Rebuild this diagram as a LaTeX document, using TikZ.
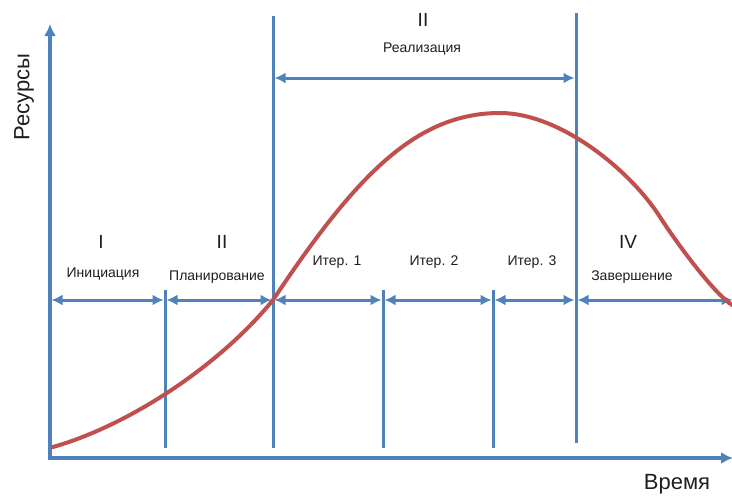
\documentclass[tikz,border=0pt]{standalone}
\usepackage{fontspec}
\setmainfont{Liberation Sans}
\usetikzlibrary{arrows.meta}

\definecolor{lineblue}{RGB}{79,129,189}
\definecolor{curvered}{RGB}{192,80,77}
\definecolor{labelgray}{RGB}{30,30,30}

\tikzset{
    axis/.style={draw=lineblue, line width=4pt, -{Latex[length=12pt,width=12pt]}},
    divider/.style={draw=lineblue, line width=3pt},
    span/.style={draw=lineblue, line width=3pt,
        {Latex[length=11pt,width=11pt]}-{Latex[length=11pt,width=11pt]},
        shorten <=1.5pt, shorten >=1.5pt},
    curve/.style={draw=curvered, line width=4pt, line cap=round},
    numeral/.style={text=labelgray, font=\fontsize{19}{22}\selectfont},
    phasename/.style={text=labelgray, font=\fontsize{14}{16}\selectfont},
    axislabel/.style={text=labelgray, font=\fontsize{22}{26}\selectfont}
}

\begin{document}
\begin{tikzpicture}[x=1pt,y=-1pt]
    \useasboundingbox (0,0) rectangle (732,496);

    % Dividers
    \foreach \i/\x/\t/\b in {1/165/290/448, 2/273/16/448, 3/383/290/448, 4/493/290/448, 5/576/13/443} {
        \coordinate (top\i) at (\x,\t);
        \coordinate (bot\i) at (\x,\b);
        \coordinate (mid\i) at (\x,300);
        \draw[divider] (top\i) -- (bot\i);
    }
    \coordinate (mid0) at (50,300);
    \coordinate (mid6) at (734,300);

    % Phase spans
    \foreach \a/\b in {0/1,1/2,2/3,3/4,4/5,5/6}
        \draw[span] (mid\a) -- (mid\b);
    \coordinate (realL) at (273,78);
    \coordinate (realR) at (576,78);
    \draw[span] (realL) -- (realR);

    % Axes
    \coordinate (origin) at (50,458);
    \coordinate (ytip) at (50,24);
    \coordinate (xtip) at (733,458);
    \draw[axis] ([yshift=-2pt]origin) -- (ytip);
    \draw[axis] ([xshift=-2pt]origin) -- (xtip);
    \node[axislabel, rotate=90] (resources) at (24,97) {Ресурсы};
    \node[axislabel] (time) at (677,484) {Время};

    % Phase labels
    \node[numeral] (n1) at (101,242) {I};
    \node[numeral] (n2) at (222,242) {II};
    \node[numeral] (n3) at (423,20) {II};
    \node[numeral] (n4) at (628,242) {IV};
    \node[phasename] (init) at (103,274) {Инициация};
    \node[phasename] (plan) at (217,277) {Планирование};
    \node[phasename] (impl) at (422,49) {Реализация};
    \node[phasename] (it1) at (337,262) {Итер. 1};
    \node[phasename] (it2) at (434,262) {Итер. 2};
    \node[phasename] (it3) at (532,262) {Итер. 3};
    \node[phasename] (close) at (632,277) {Завершение};

    % Resource curve
    \draw[curve] (53,447) .. controls (130,425) and (220,365) .. (273,300)
        .. controls (355,177) and (415,113) .. (500,113)
        .. controls (560,113) and (630,170) .. (660,217)
        .. controls (680,248) and (715,294) .. (732,305);
\end{tikzpicture}
\end{document}
